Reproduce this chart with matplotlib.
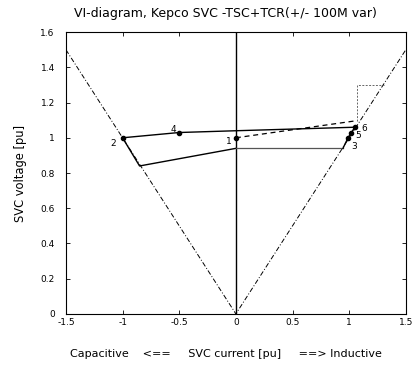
import matplotlib
matplotlib.use("Agg")
import matplotlib.pyplot as plt

# Diagonal limit lines (V = |I|)
diag_x = [-1.5, 0.0, 1.5]
diag_y = [1.5, 0.0, 1.5]

# Upper operating curve: 2 -> 4 -> axis -> 6
upper_x = [-1.0, -0.5, 0.0, 1.05]
upper_y = [1.00, 1.03, 1.04, 1.06]

# Lower operating curve
lower_x = [-1.0, -0.85, 0.0]
lower_y = [1.00, 0.84, 0.94]
lower2_x = [0.0, 0.945]
lower2_y = [0.94, 0.94]
right_x = [0.945, 0.99, 1.02, 1.05]
right_y = [0.94, 1.00, 1.03, 1.06]

# Dashed line from point 1
dash_x = [0.0, 1.065]
dash_y = [1.00, 1.097]

# Dotted step
step_x = [1.065, 1.065, 1.31]
step_y = [1.097, 1.30, 1.30]

# Labelled points
pt_labels = ["1", "2", "3", "4", "5", "6"]
pt_x = [0.0, -1.0, 0.99, -0.5, 1.02, 1.05]
pt_y = [1.00, 1.00, 1.00, 1.03, 1.03, 1.06]
lbl_off = [(-7, -3), (-9, -4), (2, -6), (-6, 2), (3, -2), (5, -1)]

xticks = [-1.5, -1, -0.5, 0, 0.5, 1, 1.5]
xticklabels = ["-1.5", "-1", "-0.5", "0", "0.5", "1", "1.5"]
yticks = [0, 0.2, 0.4, 0.6, 0.8, 1.0, 1.2, 1.4, 1.6]
yticklabels = ["0", "0.2", "0.4", "0.6", "0.8", "1", "1.2", "1.4", "1.6"]

fig = plt.figure(figsize=(4.12, 3.65), dpi=100)
ax = fig.add_axes([0.160, 0.140, 0.825, 0.772])

ax.plot(diag_x, diag_y, color="black", lw=0.7, ls=(0, (5, 2, 1, 2)))
ax.axvline(0, color="black", lw=1.0)
ax.plot(upper_x, upper_y, color="black", lw=1.0)
ax.plot(lower_x, lower_y, color="black", lw=1.0)
ax.plot(lower2_x, lower2_y, color="#555555", lw=0.9)
ax.plot(right_x, right_y, color="black", lw=1.0)
ax.plot(dash_x, dash_y, color="black", lw=0.9, ls=(0, (4, 3)))
ax.plot(step_x, step_y, color="#666666", lw=0.7, ls=(0, (2, 1.5)))
ax.plot(pt_x, pt_y, "o", color="black", ms=3)
for t, x, y, (dx, dy) in zip(pt_labels, pt_x, pt_y, lbl_off):
    ax.annotate(t, (x, y), xytext=(dx, dy), textcoords="offset points",
                fontsize=6.5, ha="left", va="center")

ax.set_xlim(-1.5, 1.5)
ax.set_ylim(0, 1.6)
ax.set_xticks(xticks)
ax.set_xticklabels(xticklabels)
ax.set_yticks(yticks)
ax.set_yticklabels(yticklabels)
ax.tick_params(direction="in", top=True, right=True, labelsize=6.5, length=3, width=0.6)
ax.tick_params(axis="y", pad=8)
ax.tick_params(axis="x", pad=3)
for s in ax.spines.values():
    s.set_linewidth(0.8)

ax.set_title("VI-diagram, Kepco SVC -TSC+TCR(+/- 100M var)", fontsize=9, pad=11, x=0.47)
ax.set_xlabel("Capacitive    <==     SVC current [pu]     ==> Inductive", fontsize=8, labelpad=16)
ax.xaxis.label.set_x(0.47)
ax.set_ylabel("SVC voltage [pu]", fontsize=8.3, labelpad=10)

fig.savefig("out.png", dpi=100)
